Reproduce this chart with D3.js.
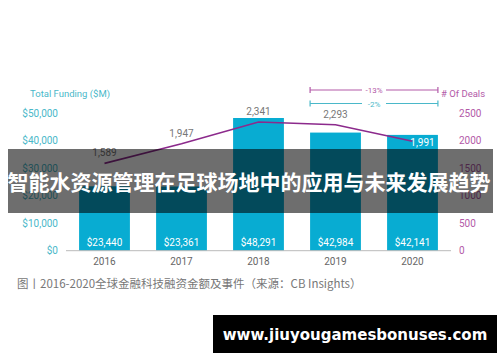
<!DOCTYPE html>
<html>
<head>
<meta charset="utf-8">
<script src="https://cdn.jsdelivr.net/npm/d3@7"></script>
<style>
  body { margin: 0; background: #fff; }
  svg { display: block; }
</style>
</head>
<body>
<script>
const width = 500, height = 362;

const years = ["2016", "2017", "2018", "2019", "2020"];
const funding = [23440, 23361, 48291, 42984, 42141];
const deals = [1589, 1947, 2341, 2293, 1991];
const fundingTicks = [0, 10000, 20000, 30000, 40000, 50000];
const dealTicks = [0, 500, 1000, 1500, 2000, 2500];
const brackets = [{label: "-13%", color: "#b35aa8"}, {label: "-2%", color: "#4ab8c9"}];

const teal = "#08acd2", purple = "#8c2a8c";
const font = "'Liberation Sans Narrow', Roboto, sans-serif";

const svg = d3.select("body").append("svg")
    .attr("width", width)
    .attr("height", height);

const x = d3.scaleBand().domain(years).range([66, 451]).paddingInner(0.34).paddingOuter(0.17);
const yL = d3.scaleLinear().domain([0, 50000]).range([250.7, 113.3]);
const yR = d3.scaleLinear().domain([0, 2500]).range([250.7, 113.3]);

// bars
svg.selectAll(".bar").data(funding).join("rect")
    .attr("x", (d, i) => x(years[i]))
    .attr("width", x.bandwidth())
    .attr("y", d => yL(d))
    .attr("height", d => yL(0) - yL(d))
    .attr("fill", teal);

svg.selectAll(".barlabel").data(funding).join("text")
    .attr("x", (d, i) => x(years[i]) + x.bandwidth() / 2)
    .attr("y", yL(0) - 5)
    .attr("text-anchor", "middle")
    .attr("fill", "#fff")
    .attr("font-family", font)
    .attr("font-size", 10)
    .text(d => "$" + d3.format(",")(d));

// baseline
svg.append("line")
    .attr("x1", 66).attr("x2", 451)
    .attr("y1", yL(0)).attr("y2", yL(0))
    .attr("stroke", "#bbb").attr("stroke-width", 1);

// left axis
const leftAxis = svg.append("g")
    .attr("transform", "translate(58,0)")
    .call(d3.axisLeft(yL).tickValues(fundingTicks).tickSize(0).tickPadding(0)
        .tickFormat(d => "$" + d3.format(",")(d)));
leftAxis.select(".domain").remove();
leftAxis.selectAll("text").attr("fill", "#4ab8c9").attr("font-family", font).attr("font-size", 10);

// right axis
const rightAxis = svg.append("g")
    .attr("transform", "translate(459,0)")
    .call(d3.axisRight(yR).tickValues(dealTicks).tickSize(0).tickPadding(0)
        .tickFormat(d3.format("d")));
rightAxis.select(".domain").remove();
rightAxis.selectAll("text").attr("fill", "#b35aa8").attr("font-family", font).attr("font-size", 10);

// x labels
svg.selectAll(".xlabel").data(years).join("text")
    .attr("x", d => x(d) + x.bandwidth() / 2)
    .attr("y", 265)
    .attr("text-anchor", "middle")
    .attr("fill", "#666")
    .attr("font-family", font)
    .attr("font-size", 10)
    .text(d => d);

// axis titles
svg.append("text").attr("x", 30).attr("y", 97)
    .attr("fill", "#4ab8c9").attr("font-family", font).attr("font-size", 9.5)
    .text("Total Funding ($M)");
svg.append("text").attr("x", 441).attr("y", 97)
    .attr("fill", "#b35aa8").attr("font-family", font).attr("font-size", 9.5)
    .text("# Of Deals");

// deals line
const line = d3.line()
    .x((d, i) => x(years[i]) + x.bandwidth() / 2)
    .y(d => yR(d));
svg.append("path")
    .datum(deals)
    .attr("d", line)
    .attr("fill", "none")
    .attr("stroke", purple)
    .attr("stroke-width", 1.6);

svg.selectAll(".deallabel").data(deals).join("text")
    .attr("x", (d, i) => x(years[i]) + x.bandwidth() / 2 + (i === 4 ? 10 : 0))
    .attr("y", (d, i) => i === 4 ? yR(d) + 5 : yR(d) - 7)
    .attr("text-anchor", "middle")
    .attr("fill", (d, i) => i === 4 ? "#fff" : "#777")
    .attr("font-family", font)
    .attr("font-size", 10)
    .text(d => d3.format(",")(d));

// change brackets (2019 -> 2020 span)
const bx1 = x("2019"), bx2 = x("2020") + x.bandwidth();
const bg = svg.selectAll(".bracket").data(brackets).join("g")
    .attr("transform", (d, i) => `translate(0,${90 + i * 13.5})`);
bg.append("line").attr("x1", bx1).attr("x2", bx2)
    .attr("stroke", d => d.color).attr("stroke-width", 1.2);
bg.append("line").attr("x1", bx1).attr("x2", bx1).attr("y1", -3).attr("y2", 3)
    .attr("stroke", d => d.color).attr("stroke-width", 1.2);
bg.append("line").attr("x1", bx2).attr("x2", bx2).attr("y1", -3).attr("y2", 3)
    .attr("stroke", d => d.color).attr("stroke-width", 1.2);
bg.append("rect").attr("x", (bx1 + bx2) / 2 - 12).attr("y", -5).attr("width", 24).attr("height", 10).attr("fill", "#fff");
bg.append("text").attr("x", (bx1 + bx2) / 2).attr("y", 3)
    .attr("text-anchor", "middle").attr("fill", d => d.color)
    .attr("font-family", font).attr("font-size", 8)
    .text(d => d.label);

// caption
svg.append("text").attr("x", 17).attr("y", 288)
    .attr("fill", "#777").attr("font-family", "'Noto Sans CJK SC', sans-serif").attr("font-size", 11.5)
    .text("图丨2016-2020全球金融科技融资金额及事件（来源：CB Insights）");

// overlay band with title
svg.append("rect").attr("x", 8).attr("y", 149).attr("width", 485).attr("height", 64)
    .attr("fill", "#000").attr("fill-opacity", 0.57);
svg.append("text").attr("x", 249).attr("y", 190)
    .attr("text-anchor", "middle").attr("fill", "#fff")
    .attr("font-family", "'Noto Sans CJK SC', sans-serif").attr("font-weight", "bold")
    .attr("font-size", 21)
    .text("智能水资源管理在足球场地中的应用与未来发展趋势");

// watermark box
svg.append("rect").attr("x", 213).attr("y", 315).attr("width", 284).attr("height", 38).attr("fill", "#000");
svg.append("text").attr("x", 355).attr("y", 340)
    .attr("text-anchor", "middle").attr("fill", "#fff")
    .attr("font-family", "'DejaVu Sans', sans-serif").attr("font-weight", "bold")
    .attr("font-size", 15)
    .text("www.jiuyougamesbonuses.com");
</script>
</body>
</html>
